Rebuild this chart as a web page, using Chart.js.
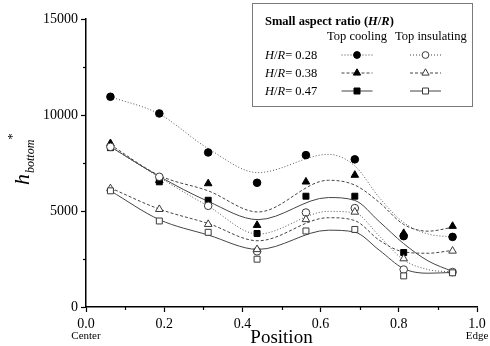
<!DOCTYPE html>
<html><head><meta charset="utf-8">
<script src="https://cdn.jsdelivr.net/npm/chart.js@4.4.1/dist/chart.umd.min.js"></script>
<style>html,body{margin:0;padding:0;background:#fff;}#wrap{width:490px;height:346px;position:relative;}</style>
</head><body><div id="wrap"><canvas id="c" width="490" height="346"></canvas></div>
<script>
// ---- data ----
const positions = [0.0625, 0.1875, 0.3125, 0.4375, 0.5625, 0.6875, 0.8125, 0.9375];
const coolHR028 = [10950, 10080, 8050, 6470, 7910, 7690, 3690, 3650];
const coolHR038 = [8520, 6600, 6430, 4260, 6520, 6870, 3840, 4210];
const coolHR047 = [8300, 6520, 5560, 3830, 5770, 5770, 2840, 1800];
const insHR028  = [8340, 6780, 5270, 2900, 4920, 5150, 1950, 1820];
const insHR038  = [6170, 5090, 4310, 3000, 4560, 4950, 2520, 2920];
const insHR047  = [6050, 4480, 3890, 2490, 3960, 4040, 1620, 1780];

// fitted curves
const fitPositions = [0.0625, 0.1875, 0.3125, 0.44, 0.62, 0.6875, 0.75, 0.8125, 0.875, 0.9375];
const fitCool028 = [10950, 10050, 8250, 7000, 7950, 7350, 5700, 4400, 3800, 3650];
const fitCool038 = [8450, 6850, 6050, 4950, 6600, 6350, 5450, 4300, 3950, 4150];
const fitCool047 = [8350, 6800, 5500, 4550, 5700, 5550, 4450, 3300, 2400, 1850];
const fitIns028  = [8350, 6750, 5250, 3800, 4980, 4900, 3700, 2450, 1950, 1820];
const fitIns038  = [6200, 5100, 4350, 3450, 4650, 4500, 3480, 2870, 2800, 2950];
const fitIns047  = [6050, 4550, 3750, 3000, 4000, 3900, 2960, 2000, 1760, 1800];

const yTicks = [0, 5000, 10000, 15000];
const yMinor = [2500, 7500, 12500];
const xTicks = [0, 0.2, 0.4, 0.6, 0.8, 1.0];
const xMinor = [0.1, 0.3, 0.5, 0.7, 0.9];
const ratioLabels = ['0.28', '0.38', '0.47'];

const SERIF = '"Liberation Serif", "Times New Roman", serif';
const DOT = [1, 2], DASH = [3, 2], SOLID = [];

function pts(xs, ys) { return xs.map((x, i) => ({ x: x, y: ys[i] })); }

function curve(ys, dash, color) {
  return { type: 'line', data: pts(fitPositions, ys), borderColor: color, borderWidth: 1,
    borderDash: dash, pointRadius: 0, cubicInterpolationMode: 'monotone', fill: false, order: 2 };
}
function marks(ys, style, filled, r) {
  return { type: 'line', data: pts(positions, ys), showLine: false, pointStyle: style,
    pointRadius: r, pointHoverRadius: r, pointBackgroundColor: filled ? '#000' : '#fff',
    pointBorderColor: filled ? '#000' : '#3a3a3a', pointBorderWidth: 1, order: 1 };
}

function rich(ctx, segs, x, y) {
  for (const s of segs) { ctx.font = s[1]; ctx.fillText(s[0], x, y); x += ctx.measureText(s[0]).width; }
  return x;
}
function legendMarker(ctx, style, filled, x, y) {
  ctx.beginPath();
  if (style === 'circle') ctx.arc(x, y, 3.4, 0, 2 * Math.PI);
  else if (style === 'triangle') { const r = 4.2; ctx.moveTo(x, y - r); ctx.lineTo(x + r * 0.866, y + r * 0.5); ctx.lineTo(x - r * 0.866, y + r * 0.5); ctx.closePath(); }
  else ctx.rect(x - 3, y - 3, 6, 6);
  ctx.fillStyle = filled ? '#000' : '#fff'; ctx.fill();
  ctx.strokeStyle = filled ? '#000' : '#3a3a3a'; ctx.lineWidth = 1; ctx.stroke();
}

const overlay = {
  id: 'overlay',
  afterDraw(chart) {
    const ctx = chart.ctx, xs = chart.scales.x, ys = chart.scales.y, ca = chart.chartArea;
    ctx.save();
    // minor ticks
    ctx.strokeStyle = '#000'; ctx.lineWidth = 1.2; ctx.setLineDash([]);
    yMinor.forEach(v => { const p = Math.round(ys.getPixelForValue(v)) + 0.5; ctx.beginPath(); ctx.moveTo(ca.left - 3, p); ctx.lineTo(ca.left, p); ctx.stroke(); });
    xMinor.forEach(v => { const p = Math.round(xs.getPixelForValue(v)) + 0.5; ctx.beginPath(); ctx.moveTo(p, ca.bottom); ctx.lineTo(p, ca.bottom + 3); ctx.stroke(); });

    ctx.fillStyle = '#000'; ctx.textBaseline = 'alphabetic';
    // Center / Edge
    ctx.font = '11px ' + SERIF; ctx.textAlign = 'center';
    ctx.fillText('Center', xs.getPixelForValue(0), 339);
    ctx.fillText('Edge', xs.getPixelForValue(1), 339);
    // x title
    ctx.font = '19px ' + SERIF;
    ctx.fillText('Position', (ca.left + ca.right) / 2, 343);

    // y title h_bottom^*
    ctx.textAlign = 'left';
    ctx.save();
    ctx.translate(29, 185);
    ctx.rotate(-Math.PI / 2);
    ctx.font = 'italic 22px ' + SERIF;
    ctx.fillText('h', 0, 0);
    const hw = ctx.measureText('h').width;
    ctx.font = 'italic 12px ' + SERIF;
    ctx.fillText('bottom', hw + 1, 5);
    const bw = ctx.measureText('bottom').width;
    ctx.font = '13px ' + SERIF;
    ctx.fillText('*', hw + bw + 1, -13);
    ctx.restore();

    // legend box
    ctx.strokeStyle = '#7a7a7a'; ctx.lineWidth = 1;
    ctx.strokeRect(252.5, 3.5, 220, 103);
    ctx.fillStyle = '#000';
    const F = 12.5;
    rich(ctx, [['Small aspect ratio (', 'bold ' + F + 'px ' + SERIF], ['H', 'bold italic ' + F + 'px ' + SERIF], ['/', 'bold ' + F + 'px ' + SERIF], ['R', 'bold italic ' + F + 'px ' + SERIF], [')', 'bold ' + F + 'px ' + SERIF]], 265, 24.5);
    ctx.font = F + 'px ' + SERIF;
    ctx.fillText('Top cooling', 327, 39.5);
    ctx.fillText('Top insulating', 395, 39.5);
    const rowY = [54.5, 72.5, 90.5];
    const styles = ['circle', 'triangle', 'rect'];
    const dashes = [DOT, DASH, SOLID];
    rowY.forEach((y, i) => {
      ctx.fillStyle = '#000';
      rich(ctx, [['H', 'italic ' + F + 'px ' + SERIF], ['/', F + 'px ' + SERIF], ['R', 'italic ' + F + 'px ' + SERIF], ['= ' + ratioLabels[i], F + 'px ' + SERIF]], 265, y + 4.5);
      [[341.5, 372.5, 357, true], [410, 441, 425.5, false]].forEach(s => {
        ctx.beginPath(); ctx.setLineDash(dashes[i]); ctx.strokeStyle = '#444'; ctx.lineWidth = 1;
        ctx.moveTo(s[0], y + 0.5); ctx.lineTo(s[1], y + 0.5); ctx.stroke(); ctx.setLineDash([]);
        legendMarker(ctx, styles[i], s[3], s[2], y + 0.5);
      });
    });
    ctx.restore();
  }
};

new Chart(document.getElementById('c'), {
  type: 'line',
  data: {
    datasets: [
      marks(insHR047, 'rect', false, 4.2),
      marks(insHR038, 'triangle', false, 4.4),
      marks(insHR028, 'circle', false, 3.8),
      marks(coolHR047, 'rect', true, 4.2),
      marks(coolHR038, 'triangle', true, 4.4),
      marks(coolHR028, 'circle', true, 3.8),
      curve(fitCool028, DOT, '#555'),
      curve(fitCool038, DASH, '#444'),
      curve(fitCool047, SOLID, '#444'),
      curve(fitIns028, DOT, '#555'),
      curve(fitIns038, DASH, '#444'),
      curve(fitIns047, SOLID, '#444')
    ]
  },
  options: {
    responsive: false, animation: false, devicePixelRatio: 1,
    layout: { padding: { left: 0, top: 19, right: 13, bottom: 0 } },
    plugins: { legend: { display: false }, tooltip: { enabled: false } },
    scales: {
      x: {
        type: 'linear', min: 0, max: 1,
        afterBuildTicks: s => { s.ticks = xTicks.map(v => ({ value: v })); },
        afterFit: s => { s.height = 39; },
        ticks: { autoSkip: false, maxRotation: 0, padding: 4, color: '#000', font: { family: SERIF, size: 14 }, callback: v => Number(v).toFixed(1) },
        grid: { drawOnChartArea: false, drawTicks: true, tickLength: 5, color: '#000', tickWidth: 1.2 },
        border: { display: true, color: '#000', width: 1.5 }
      },
      y: {
        type: 'linear', min: 0, max: 15000,
        afterBuildTicks: s => { s.ticks = yTicks.map(v => ({ value: v })); },
        afterFit: s => { s.width = 86; },
        ticks: { autoSkip: false, padding: 3, color: '#000', font: { family: SERIF, size: 14 }, callback: v => String(v) },
        grid: { drawOnChartArea: false, drawTicks: true, tickLength: 5, color: '#000', tickWidth: 1.2 },
        border: { display: true, color: '#000', width: 1.5 }
      }
    }
  },
  plugins: [overlay]
});
</script></body></html>
